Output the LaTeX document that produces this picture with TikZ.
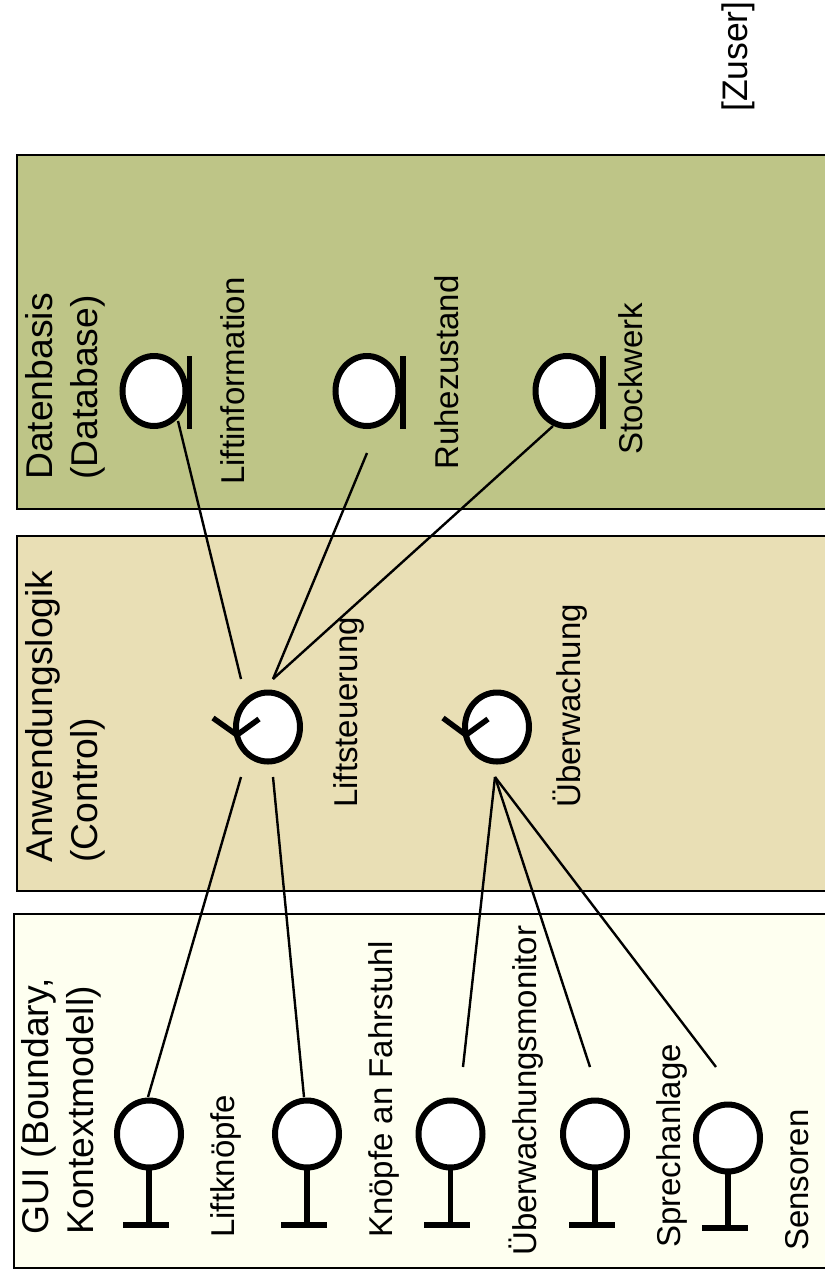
\documentclass[tikz,border=0pt]{standalone}
\usepackage{fontspec}
\setmainfont{Liberation Sans}
\usetikzlibrary{shapes.geometric}
\definecolor{dbfill}{HTML}{BEC587}
\definecolor{ctrlfill}{HTML}{E9DFB5}
\definecolor{guifill}{HTML}{FEFFF0}
\tikzset{
  panel/.style={draw=black,line width=2pt},
  sym/.style={shape=ellipse,draw=black,fill=white,line width=6pt,inner sep=0pt,outer sep=0pt},
  bsym/.style={sym,minimum width=64pt,minimum height=67pt},
  dsym/.style={sym,minimum width=63pt,minimum height=70pt},
  csym/.style={sym,minimum width=64pt,minimum height=69pt},
  wire/.style={draw=black,line width=2.4pt},
  thick part/.style={draw=black,line width=5.5pt},
  lbl/.style={rotate=90,anchor=base west,inner sep=0pt,font=\fontsize{33}{36}\selectfont},
  head/.style={rotate=90,anchor=north west,inner sep=0pt,align=left,font=\fontsize{37.3}{45}\selectfont},
}
\begin{document}
\begin{tikzpicture}[x=1pt,y=-1pt]
\useasboundingbox (0,0) rectangle (825,1278);
\clip (0,0) rectangle (825,1278);
\fill[white] (0,0) rectangle (825,1278);
% panels
\draw[panel,fill=dbfill] (17,155) rectangle (835,509);
\draw[panel,fill=ctrlfill] (17,536) rectangle (835,891);
\draw[panel,fill=guifill] (14,914) rectangle (835,1268);
% free ends of the connectors
\coordinate (cLiftA) at (241,679);
\coordinate (cLiftB) at (273,679);
\coordinate (cLiftC) at (241,777);
\coordinate (cLiftD) at (273,777);
\coordinate (cUeb) at (495,777);
\coordinate (rzEnd) at (367,453);
\coordinate (sbEnd) at (553,426);
\coordinate (liEnd) at (178,421);
\coordinate (kfTop) at (148,1097);
\coordinate (kaTop) at (304,1097);
\coordinate (umEnd) at (463,1067);
\coordinate (spEnd) at (590,1067);
\coordinate (seEnd) at (716,1067);
% connectors
\draw[wire] (liEnd) -- (cLiftA);
\draw[wire] (rzEnd) -- (cLiftB);
\draw[wire] (sbEnd) -- (cLiftB);
\draw[wire] (cLiftC) -- (kfTop);
\draw[wire] (cLiftD) -- (kaTop);
\draw[wire] (cUeb) -- (umEnd);
\draw[wire] (cUeb) -- (spEnd);
\draw[wire] (cUeb) -- (seEnd);
% database symbols
\draw[thick part] (189.5,356) -- (189.5,429);
\draw[thick part] (403,356) -- (403,429);
\draw[thick part] (603,356) -- (603,429);
\node[dsym] (li) at (154,391) {};
\node[dsym] (rz) at (367,391) {};
\node[dsym] (sb) at (567,391) {};
% control symbols
\node[csym] (ls) at (268,727) {};
\node[csym] (ue) at (497,727) {};
\draw[thick part] (259,719) -- (237,735) -- (213,718);
\draw[thick part] (488,719) -- (466,735) -- (443,718);
% boundary symbols
\node[bsym] (kf) at (149,1134) {};
\node[bsym] (ka) at (307,1134) {};
\node[bsym] (um) at (450.5,1134) {};
\node[bsym] (sp) at (595,1134) {};
\node[bsym] (se) at (728,1138) {};
\draw[thick part] (kf.south) -- (149,1225);
\draw[thick part] (ka.south) -- (307,1225);
\draw[thick part] (um.south) -- (450.5,1225);
\draw[thick part] (sp.south) -- (595,1225);
\draw[thick part] (se.south) -- (728,1228);
\draw[thick part,line width=6pt] (123,1225) -- (169,1225);
\draw[thick part,line width=6pt] (281,1225) -- (327,1225);
\draw[thick part,line width=6pt] (424,1225) -- (470,1225);
\draw[thick part,line width=6pt] (569,1225) -- (615,1225);
\draw[thick part,line width=6pt] (702,1228) -- (748,1228);
% headings
\node[head] (hdb) at (25,480) {Datenbasis\\(Database)};
\node[head] (hctrl) at (25,863) {Anwendungslogik\\(Control)};
\node[head] (hgui) at (21,1235) {GUI (Boundary,\\Kontextmodell)};
\node[lbl,font=\fontsize{35.5}{45}\selectfont] (zuser) at (747,112) {[Zuser]};
% labels
\node[lbl] (tli) at (244,485) {Liftinformation};
\node[lbl] (trz) at (458,470) {Ruhezustand};
\node[lbl] (tsb) at (642,455) {Stockwerk};
\node[lbl] (tls) at (357,808) {Liftsteuerung};
\node[lbl] (tue) at (580,808) {Überwachung};
\node[lbl] (tkf) at (234,1238) {Liftknöpfe};
\node[lbl] (tka) at (392,1238) {Knöpfe an Fahrstuhl};
\node[lbl] (tum) at (536,1256) {Überwachungsmonitor};
\node[lbl] (tsp) at (680,1248) {Sprechanlage};
\node[lbl] (tse) at (808,1251) {Sensoren};
\end{tikzpicture}
\end{document}
